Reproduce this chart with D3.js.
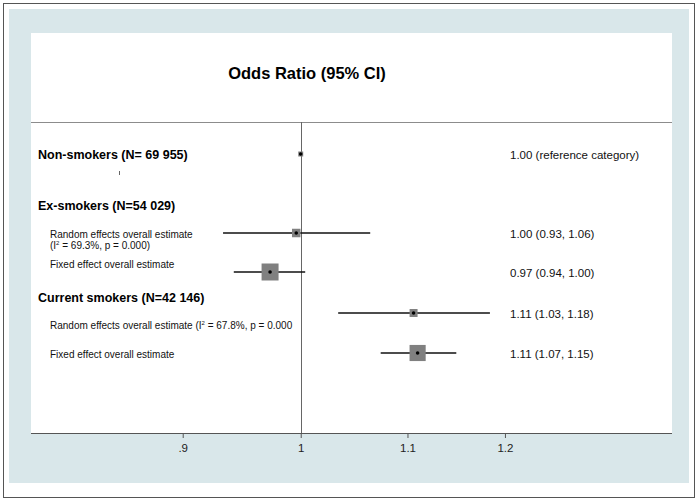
<!DOCTYPE html>
<html lang="en">
  <head>
    <meta charset="UTF-8" />
    <title>Odds Ratio (95% CI)</title>
    <style>
      body { margin: 0; background: #fff; }
      svg { font-family: "Liberation Sans", Arial, sans-serif; display: block; }
    </style>
    <script src="https://cdn.jsdelivr.net/npm/d3@7"></script>
  </head>
  <body>
    <script>
      // estimates (odds ratios)
      const groups = ["Non-smokers (N= 69 955)", "Ex-smokers (N=54 029)", "Current smokers (N=42 146)"];
      const estimateLabels = ["Random effects overall estimate", "Fixed effect overall estimate",
                              "Random effects overall estimate", "Fixed effect overall estimate"];
      const estimateGroup = [1, 1, 2, 2];
      const estimates = [0.996, 0.973, 1.106, 1.110];
      const lower = [0.933, 0.942, 1.034, 1.074];
      const upper = [1.064, 1.004, 1.184, 1.149];
      const weights = [0.25, 1, 0.22, 0.9];
      const resultText = ["1.00 (0.93, 1.06)", "0.97 (0.94, 1.00)", "1.11 (1.03, 1.18)", "1.11 (1.07, 1.15)"];
      const referenceText = "1.00 (reference category)";
      const heterogeneity = ["69.3%", "67.8%"];
      const tickValues = [0.9, 1, 1.1, 1.2];
      const tickLabels = [".9", "1", "1.1", "1.2"];

      const width = 698, height = 503;
      const plot = { left: 31, right: 672, top: 33, header: 122, bottom: 433 };

      const svg = d3.select("body").append("svg")
        .attr("width", width)
        .attr("height", height);

      // outer frame and tinted panel
      svg.append("rect").attr("x", 3.5).attr("y", 3.5).attr("width", 691).attr("height", 494)
        .attr("fill", "#fff").attr("stroke", "#555").attr("stroke-width", 1);
      svg.append("rect").attr("x", 9).attr("y", 9).attr("width", 680).attr("height", 474)
        .attr("fill", "#d9e7ea");
      svg.append("rect").attr("x", plot.left).attr("y", plot.top)
        .attr("width", plot.right - plot.left).attr("height", plot.bottom - plot.top)
        .attr("fill", "#fff");

      const x = d3.scaleLog().domain([0.786, 1.393]).range([plot.left, plot.right]);

      svg.append("text")
        .attr("x", 307).attr("y", 79)
        .attr("text-anchor", "middle")
        .attr("font-size", 16.5).attr("font-weight", "bold")
        .text("Odds Ratio (95% CI)");

      svg.append("line")
        .attr("x1", plot.left).attr("x2", plot.right)
        .attr("y1", plot.header + 0.5).attr("y2", plot.header + 0.5)
        .attr("stroke", "#8c8c8c");

      // null line at OR = 1
      svg.append("line")
        .attr("x1", Math.round(x(1)) + 0.5).attr("x2", Math.round(x(1)) + 0.5)
        .attr("y1", plot.header).attr("y2", plot.bottom)
        .attr("stroke", "#666");

      // x axis
      const axis = svg.append("g")
        .attr("transform", `translate(0,${plot.bottom})`)
        .call(d3.axisBottom(x).tickValues(tickValues)
          .tickFormat((d, i) => tickLabels[i]).tickSize(5).tickPadding(6));
      axis.select(".domain").attr("d", `M${plot.left},0.5H${plot.right}`).attr("stroke", "#555");
      axis.selectAll(".tick line").attr("stroke", "#555");
      axis.selectAll(".tick text").attr("font-size", 11.5).attr("fill", "#222")
        .attr("font-family", "Liberation Sans, Arial, sans-serif");

      // row layout
      const groupY = [159, 210, 302];
      const rowY = [233, 272, 313, 353];
      const size = d3.scaleSqrt().domain([0, 1]).range([0, 17]);

      svg.selectAll(".group").data(groups).enter().append("text")
        .attr("class", "group")
        .attr("x", 38).attr("y", (d, i) => groupY[i])
        .attr("font-size", 12.5).attr("font-weight", "bold")
        .text(d => d);

      // stray mark under the first label in the original
      svg.append("line").attr("x1", 119.5).attr("x2", 119.5).attr("y1", 171).attr("y2", 175)
        .attr("stroke", "#666");

      // estimate labels
      const labels = svg.append("g").attr("font-size", 10).attr("fill", "#111");
      const lab0 = labels.append("text").attr("x", 50).attr("y", 238);
      lab0.append("tspan").text(estimateLabels[0]);
      const lab0b = labels.append("text").attr("x", 50).attr("y", 249);
      lab0b.append("tspan").text("(I");
      lab0b.append("tspan").attr("font-size", 6).attr("dy", -4).text("2");
      lab0b.append("tspan").attr("dy", 4).text(` = ${heterogeneity[0]}, p = 0.000)`);
      labels.append("text").attr("x", 50).attr("y", 268).text(estimateLabels[1]);
      const lab2 = labels.append("text").attr("x", 50).attr("y", 329);
      lab2.append("tspan").text(estimateLabels[2] + " (I");
      lab2.append("tspan").attr("font-size", 6).attr("dy", -4).text("2");
      lab2.append("tspan").attr("dy", 4).text(` = ${heterogeneity[1]}, p = 0.000`);
      labels.append("text").attr("x", 50).attr("y", 358).text(estimateLabels[3]);

      // reference category row
      const refY = 154;
      svg.append("rect")
        .attr("x", x(1) - 2.5).attr("y", refY - 2.5).attr("width", 5).attr("height", 5)
        .attr("fill", "#808080");
      svg.append("circle").attr("cx", x(1)).attr("cy", refY).attr("r", 1.8).attr("fill", "#000");
      svg.append("text").attr("x", 510).attr("y", 159).attr("font-size", 11.5).attr("fill", "#111")
        .text(referenceText);

      // estimates
      const rows = svg.selectAll(".est").data(estimates).enter().append("g").attr("class", "est");
      rows.append("line")
        .attr("x1", (d, i) => x(lower[i])).attr("x2", (d, i) => x(upper[i]))
        .attr("y1", (d, i) => rowY[i]).attr("y2", (d, i) => rowY[i])
        .attr("stroke", "#111").attr("stroke-width", 1.6);
      rows.append("rect")
        .attr("x", (d, i) => x(d) - size(weights[i]) / 2)
        .attr("y", (d, i) => rowY[i] - size(weights[i]) / 2)
        .attr("width", (d, i) => size(weights[i]))
        .attr("height", (d, i) => size(weights[i]))
        .attr("fill", "#808080");
      rows.append("circle")
        .attr("cx", d => x(d)).attr("cy", (d, i) => rowY[i])
        .attr("r", 1.8).attr("fill", "#000");
      rows.append("text")
        .attr("x", 510).attr("y", (d, i) => rowY[i] + 5)
        .attr("font-size", 11.5).attr("fill", "#111")
        .text((d, i) => resultText[i]);
    </script>
  </body>
</html>
